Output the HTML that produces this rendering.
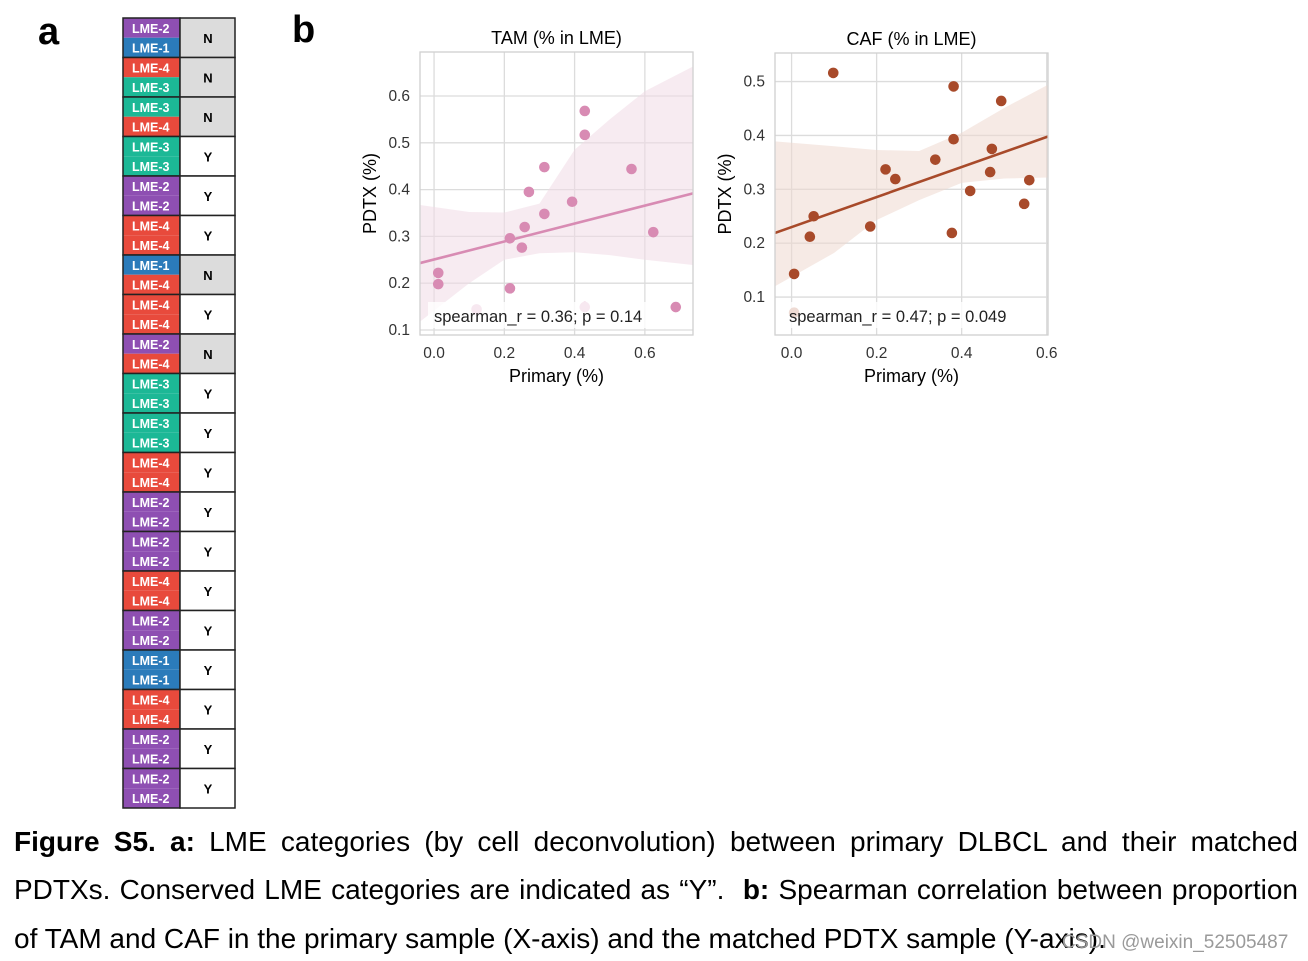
<!DOCTYPE html>
<html><head><meta charset="utf-8"><style>
body{margin:0;background:#fff;width:1308px;height:961px;overflow:hidden;font-family:"Liberation Sans",sans-serif;position:relative}
.cap{position:absolute;left:14px;width:1284px;font-size:28px;color:#000;line-height:30px;white-space:nowrap}
.j{text-align:justify;text-align-last:justify;white-space:normal}
</style></head><body>
<svg id="fig" width="1308" height="820" style="position:absolute;left:0;top:0">
<text x="38" y="44" font-size="38" font-weight="bold" font-family="Liberation Sans">a</text>
<text x="292" y="42" font-size="38" font-weight="bold" font-family="Liberation Sans">b</text>
<g id="table"></g>
<g id="tam"></g>
<g id="caf"></g>
</svg>
<div class="cap j" style="top:827px"><b>Figure S5. a:</b> LME categories (by cell deconvolution) between primary DLBCL and their matched</div>
<div class="cap j" style="top:875px">PDTXs. Conserved LME categories are indicated as “Y”.&nbsp; <b>b:</b> Spearman correlation between proportion</div>
<div class="cap" style="top:924px">of TAM and CAF in the primary sample (X-axis) and the matched PDTX sample (Y-axis).</div>
<div style="position:absolute;left:1062px;top:932px;font-size:19px;color:#9a9a9a">CSDN @weixin_52505487</div>
<script>
const NS="http://www.w3.org/2000/svg";
function mk(p,t,a){const e=document.createElementNS(NS,t);for(const k in a)e.setAttribute(k,a[k]);p.appendChild(e);return e;}
// table data
const primaryLME=[2,4,3,3,2,4,1,4,2,3,3,4,2,2,4,2,1,4,2,2];
const pdtxLME=[1,3,4,3,2,4,4,4,4,3,3,4,2,2,4,2,1,4,2,2];
const conserved=["N","N","N","Y","Y","Y","N","Y","N","Y","Y","Y","Y","Y","Y","Y","Y","Y","Y","Y"];
const lmeColor={1:"#2b7bba",2:"#8e4fb2",3:"#1cb896",4:"#e84a3c"};
const T=document.getElementById("table");
const rh=39.5,tx=123,ty=18;
primaryLME.forEach((p,i)=>{
 const y=ty+i*rh;
 const r1=mk(T,"rect",{x:tx,y:y,width:57,height:rh/2,fill:lmeColor[p]});
 
 
 const r2=mk(T,"rect",{x:tx,y:y+rh/2,width:57,height:rh/2,fill:lmeColor[pdtxLME[i]]});
 
 
 mk(T,"rect",{x:tx,y:y,width:57,height:rh,fill:"none",stroke:"#222","stroke-width":1.5});
 const c=mk(T,"rect",{x:tx+57,y:y,width:55,height:rh,fill:conserved[i]=="N"?"#dcdcdc":"#fff",stroke:"#222","stroke-width":1.5});
 
 
 const a=mk(T,"text",{x:tx+9,y:y+15,"font-size":12.5,"font-weight":"bold",fill:"#fff","font-family":"Liberation Sans"});a.textContent="LME-"+p;
 
 
 const b=mk(T,"text",{x:tx+9,y:y+34.5,"font-size":12.5,"font-weight":"bold",fill:"#fff","font-family":"Liberation Sans"});b.textContent="LME-"+pdtxLME[i];
 
 
 const t=mk(T,"text",{x:tx+85,y:y+25,"font-size":13,"font-weight":"bold","text-anchor":"middle","font-family":"Liberation Sans"});t.textContent=conserved[i];
 
 
});
// TAM data
const tamX=[0.012,0.012,0.216,0.25,0.258,0.27,0.314,0.314,0.393,0.429,0.429,0.562,0.624,0.216,0.688];
const tamY=[0.222,0.198,0.296,0.276,0.32,0.395,0.448,0.348,0.374,0.568,0.517,0.444,0.309,0.189,0.149];
const tamFadedX=[0.121,0.429];
const tamFadedY=[0.144,0.149];
const tamLineX=[-0.04,0.737];
const tamLineY=[0.243,0.392];
const tamBandX=[-0.04,0.1,0.2,0.3,0.4,0.5,0.6,0.737];
const tamBandUp=[0.367,0.352,0.351,0.37,0.485,0.55,0.61,0.663];
const tamBandLo=[0.118,0.2,0.25,0.264,0.266,0.26,0.25,0.239];
const tamXTicks=[0.0,0.2,0.4,0.6];
const tamYTicks=[0.1,0.2,0.3,0.4,0.5,0.6];
// CAF data
const cafX=[0.006,0.043,0.052,0.098,0.185,0.221,0.244,0.338,0.377,0.381,0.381,0.42,0.467,0.471,0.493,0.547,0.559];
const cafY=[0.143,0.212,0.25,0.516,0.231,0.337,0.319,0.355,0.219,0.491,0.393,0.297,0.332,0.375,0.464,0.273,0.317];
const cafFadedX=[0.006];
const cafFadedY=[0.071];
const cafLineX=[-0.039,0.603];
const cafLineY=[0.219,0.398];
const cafBandX=[-0.039,0.1,0.2,0.3,0.4,0.5,0.603];
const cafBandUp=[0.389,0.38,0.373,0.371,0.405,0.451,0.494];
const cafBandLo=[0.12,0.182,0.243,0.28,0.312,0.32,0.322];
const cafXTicks=[0.0,0.2,0.4,0.6];
const cafYTicks=[0.1,0.2,0.3,0.4,0.5];

function chart(id,o){
 const G=document.getElementById(id);
 const sx=v=>o.L+(v-o.x0)/(o.x1-o.x0)*(o.R-o.L);
 const sy=v=>o.B-(v-o.y0)/(o.y1-o.y0)*(o.B-o.T);
 o.xt.forEach(v=>{const l=mk(G,"line",{x1:sx(v),x2:sx(v),y1:o.T,y2:o.B,stroke:"#dcdcdc","stroke-width":1.3});
  const t=mk(G,"text",{x:sx(v),y:o.B+23,"font-size":15.5,"text-anchor":"middle",fill:"#333","font-family":"Liberation Sans"});t.textContent=v.toFixed(1);});
 o.yt.forEach(v=>{const l=mk(G,"line",{x1:o.L,x2:o.R,y1:sy(v),y2:sy(v),stroke:"#dcdcdc","stroke-width":1.3});
  const t=mk(G,"text",{x:o.L-10,y:sy(v)+5,"font-size":15.5,"text-anchor":"end",fill:"#333","font-family":"Liberation Sans"});t.textContent=v.toFixed(1);});
 let d="";o.bx.forEach((v,i)=>d+=(i?"L":"M")+sx(v)+","+sy(o.bu[i]));
 for(let i=o.bx.length-1;i>=0;i--)d+="L"+sx(o.bx[i])+","+sy(o.bl[i]);
 const band=mk(G,"path",{d:d+"Z",fill:o.bc,opacity:0.55});
 o.px.forEach((v,i)=>{const c=mk(G,"circle",{cx:sx(v),cy:sy(o.py[i]),r:5.3,fill:o.c});});
 o.fx.forEach((v,i)=>{const c=mk(G,"circle",{cx:sx(v),cy:sy(o.fy[i]),r:5.3,fill:o.c});});
 const ln=mk(G,"line",{x1:sx(o.lx[0]),y1:sy(o.ly[0]),x2:sx(o.lx[1]),y2:sy(o.ly[1]),stroke:o.c,"stroke-width":2.6});
 mk(G,"rect",{x:o.L,y:o.T,width:o.R-o.L,height:o.B-o.T,fill:"none",stroke:"#d0d0d0","stroke-width":1.3});
 mk(G,"rect",{x:o.L+8,y:o.B-33,width:o.tw,height:26,fill:"#fff",opacity:0.8});
 const st=mk(G,"text",{x:o.L+14,y:o.B-13,"font-size":16.5,fill:"#222","font-family":"Liberation Sans"});st.textContent=o.stat;
 const ti=mk(G,"text",{x:(o.L+o.R)/2,y:o.T-8,"font-size":18,"text-anchor":"middle","font-family":"Liberation Sans"});ti.textContent=o.title;
 const xl=mk(G,"text",{x:(o.L+o.R)/2,y:o.B+47,"font-size":18,"text-anchor":"middle","font-family":"Liberation Sans"});xl.textContent="Primary (%)";
 const yl=mk(G,"text",{x:0,y:0,"font-size":18,"text-anchor":"middle","font-family":"Liberation Sans",transform:`translate(${o.L-44},${(o.T+o.B)/2}) rotate(-90)`});yl.textContent="PDTX (%)";
}
chart("tam",{L:420,R:693,T:52,B:335,x0:-0.04,x1:0.737,y0:0.0893,y1:0.694,xt:tamXTicks,yt:tamYTicks,px:tamX,py:tamY,fx:tamFadedX,fy:tamFadedY,lx:tamLineX,ly:tamLineY,bx:tamBandX,bu:tamBandUp,bl:tamBandLo,c:"#d88bb3",bc:"#f1dbe6",title:"TAM (% in LME)",stat:"spearman_r = 0.36; p = 0.14",tw:232});
chart("caf",{L:775,R:1048,T:53,B:335,x0:-0.039,x1:0.603,y0:0.0296,y1:0.553,xt:cafXTicks,yt:cafYTicks,px:cafX,py:cafY,fx:cafFadedX,fy:cafFadedY,lx:cafLineX,ly:cafLineY,bx:cafBandX,bu:cafBandUp,bl:cafBandLo,c:"#a84a2a",bc:"#efd9cf",title:"CAF (% in LME)",stat:"spearman_r = 0.47; p = 0.049",tw:240});
</script>
</body></html>
